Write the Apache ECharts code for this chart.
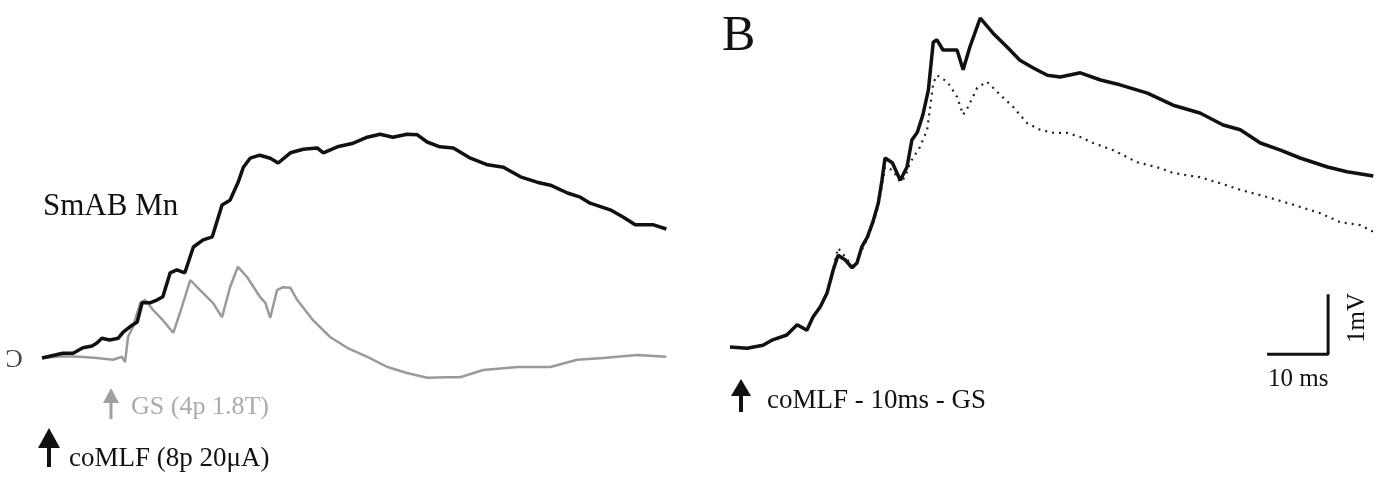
<!DOCTYPE html>
<html>
<head>
<meta charset="utf-8">
<script src="https://cdn.jsdelivr.net/npm/echarts@6/dist/echarts.min.js"></script>
<style>
html,body{margin:0;padding:0;background:#fff;}
#chart{width:1389px;height:481px;}
</style>
</head>
<body>
<div id="chart"></div>
<script>
// Time in ms, membrane potential in mV
var panelA_coMLF = [[0,0],[3.4,0.08],[5.1,0.08],[6.7,0.17],[8.2,0.2],[9.0,0.25],[9.8,0.33],[11.1,0.3],[12.5,0.33],[13.3,0.43],[14.4,0.52],[15.6,0.6],[16.4,0.92],[17.7,0.92],[18.9,0.97],[19.8,1.02],[21.0,1.42],[22.1,1.47],[23.4,1.42],[24.8,1.85],[26.4,1.97],[27.9,2.02],[29.5,2.55],[30.8,2.63],[32.1,2.92],[33.0,3.18],[34.1,3.33],[35.7,3.38],[37.4,3.33],[38.7,3.25],[40.7,3.42],[42.8,3.48],[45.1,3.5],[46.1,3.42],[48.4,3.52],[51.0,3.58],[53.3,3.68],[55.4,3.73],[57.5,3.68],[59.8,3.73],[61.5,3.72],[63.1,3.6],[65.2,3.52],[67.4,3.5],[70.2,3.33],[73.0,3.22],[75.6,3.18],[78.4,3.02],[81.1,2.93],[83.3,2.88],[86.1,2.75],[88.2,2.68],[89.8,2.58],[93.1,2.47],[95.2,2.35],[97.2,2.22],[100.2,2.22],[102.3,2.15]];
var panelA_GS = [[0,0],[3.4,0.03],[6.2,0.02],[9.0,0],[11.6,-0.03],[13.1,0.02],[13.6,-0.07],[14.1,0.35],[14.9,0.52],[16.1,0.92],[16.9,0.97],[18.2,0.8],[19.8,0.63],[21.5,0.42],[22.6,0.75],[24.3,1.3],[25.9,1.13],[28.0,0.92],[29.5,0.68],[30.8,1.18],[32.1,1.52],[33.6,1.35],[35.7,1.02],[36.6,0.92],[37.4,0.67],[38.5,1.13],[39.5,1.18],[40.7,1.17],[41.8,0.97],[44.4,0.63],[47.2,0.35],[50.0,0.17],[53.3,0.02],[56.6,-0.15],[59.8,-0.25],[63.1,-0.33],[66.4,-0.32],[68.5,-0.32],[72.3,-0.2],[77.9,-0.15],[83.3,-0.15],[87.7,-0.03],[92.0,0],[97.5,0.05],[102.3,0.02]];
var panelB_combined = [[0,0],[2.8,-0.02],[5.4,0.03],[7.0,0.12],[9.3,0.2],[11.0,0.37],[12.6,0.28],[13.6,0.5],[14.8,0.67],[15.9,0.9],[16.9,1.28],[17.7,1.53],[18.9,1.45],[20.0,1.32],[20.8,1.4],[21.6,1.67],[22.5,1.83],[23.4,2.08],[24.3,2.4],[24.9,2.78],[25.4,3.15],[26.6,3.07],[27.9,2.78],[29.0,3.0],[29.8,3.45],[30.7,3.58],[31.6,3.87],[32.5,4.28],[33.3,5.08],[33.9,5.12],[34.9,4.95],[37.2,4.95],[38.2,4.62],[39.3,5.0],[41.0,5.48],[43.1,5.23],[45.4,5.0],[47.5,4.78],[49.7,4.65],[52.0,4.53],[54.1,4.5],[57.4,4.57],[60.7,4.45],[63.9,4.37],[68.4,4.23],[72.6,4.03],[77.0,3.9],[80.8,3.7],[83.6,3.62],[86.9,3.4],[90.2,3.28],[93.4,3.15],[97.9,3.0],[101.1,2.92],[105.4,2.85]];
var panelB_dotted = [[0,0],[2.8,-0.02],[5.4,0.03],[7.0,0.12],[9.3,0.2],[11.0,0.37],[12.6,0.28],[13.6,0.5],[14.8,0.67],[15.9,0.9],[16.9,1.3],[17.7,1.65],[18.9,1.5],[20.0,1.35],[20.8,1.4],[21.6,1.62],[22.5,1.8],[23.4,2.05],[24.3,2.35],[24.9,2.7],[25.4,3.0],[26.6,2.95],[27.9,2.75],[28.7,2.83],[29.5,3.07],[31.1,3.33],[32.3,3.62],[32.8,4.0],[33.3,4.4],[33.9,4.53],[35.6,4.42],[37.2,4.17],[38.2,3.87],[39.0,4.0],[40.5,4.32],[42.1,4.42],[44.3,4.2],[46.4,4.0],[48.7,3.73],[50.8,3.62],[53.0,3.57],[55.2,3.57],[57.4,3.5],[59.5,3.4],[62.8,3.28],[66.7,3.08],[70.5,2.98],[72.6,2.9],[77.0,2.83],[80.3,2.73],[83.6,2.62],[88.0,2.5],[92.3,2.37],[96.7,2.23],[100.0,2.08],[103.3,2.03],[105.4,1.92]];
// Scale bar: 10 ms horizontal, 1 mV vertical
var scaleBarPoints = [[88.0,-0.12],[98.0,-0.12],[98.0,0.88]];
var labels = {
  panelB: 'B',
  cell: 'SmAB Mn',
  gs: 'GS (4p 1.8T)',
  comlfA: 'coMLF (8p 20\u03bcA)',
  comlfB: 'coMLF - 10ms - GS',
  timeBar: '10 ms',
  voltBar: '1mV'
};

var chart = echarts.init(document.getElementById('chart'), null, {renderer:'canvas'});
var serif = '"Liberation Serif","DejaVu Serif",serif';

function arrow(cx, top, headBase, bottom, half, shaft, color){
  return [
    {type:'polygon', shape:{points:[[cx,top],[cx-half,headBase],[cx+half,headBase]]}, style:{fill:color}},
    {type:'rect', shape:{x:cx-shaft/2, y:headBase-1, width:shaft, height:bottom-headBase+1}, style:{fill:color}}
  ];
}
function txt(x, y, s, size, color, rot){
  return {type:'text', x:x, y:y, rotation:rot||0, style:{text:s, font: size+'px '+serif, fill:color, textVerticalAlign:'middle', textAlign:'left'}};
}

var graphics = [].concat(
  [txt(43,207,labels.cell,31,'#111')],
  [txt(722,37,labels.panelB,50,'#111')],
  [{type:'text', x:14, y:357, rotation:Math.PI, style:{text:'C', font:'26px '+serif, fill:'#444', textAlign:'center', textVerticalAlign:'middle'}}],
  arrow(111, 388, 403, 419, 8, 3, '#a0a0a0'),
  [txt(131,407,labels.gs,26,'#ababab')],
  arrow(49, 428, 448, 467, 11, 4, '#111'),
  [txt(69,459,labels.comlfA,27,'#111')],
  arrow(741, 379, 396, 412, 10, 4, '#111'),
  [txt(767,401,labels.comlfB,27,'#111')],
  [txt(1268,379,labels.timeBar,25,'#111')],
  [{type:'text', x:1357, y:318, rotation:Math.PI/2, style:{text:labels.voltBar, font:'25px '+serif, fill:'#111', textAlign:'center', textVerticalAlign:'middle'}}]
);

var option = {
  animation:false,
  backgroundColor:'#ffffff',
  grid:[
    {left:42, top:28, width:650, height:420},
    {left:730, top:17, width:650, height:420}
  ],
  xAxis:[
    {gridIndex:0, type:'value', min:0, max:106.5, show:false},
    {gridIndex:1, type:'value', min:0, max:106.5, show:false}
  ],
  yAxis:[
    {gridIndex:0, type:'value', min:-1.5, max:5.5, show:false},
    {gridIndex:1, type:'value', min:-1.5, max:5.5, show:false}
  ],
  series:[
    {type:'line', xAxisIndex:0, yAxisIndex:0, data:panelA_GS, symbol:'none', lineStyle:{color:'#9a9a9a', width:2.5}},
    {type:'line', xAxisIndex:0, yAxisIndex:0, data:panelA_coMLF, symbol:'none', lineStyle:{color:'#111', width:3.5}},
    {type:'line', xAxisIndex:1, yAxisIndex:1, data:panelB_dotted, symbol:'none', lineStyle:{color:'#222', width:2.2, type:[2,5]}},
    {type:'line', xAxisIndex:1, yAxisIndex:1, data:panelB_combined, symbol:'none', lineStyle:{color:'#111', width:3.5}},
    {type:'line', xAxisIndex:1, yAxisIndex:1, data:scaleBarPoints, symbol:'none', lineStyle:{color:'#111', width:3}}
  ],
  graphic: graphics
};
chart.setOption(option);
</script>
</body>
</html>
